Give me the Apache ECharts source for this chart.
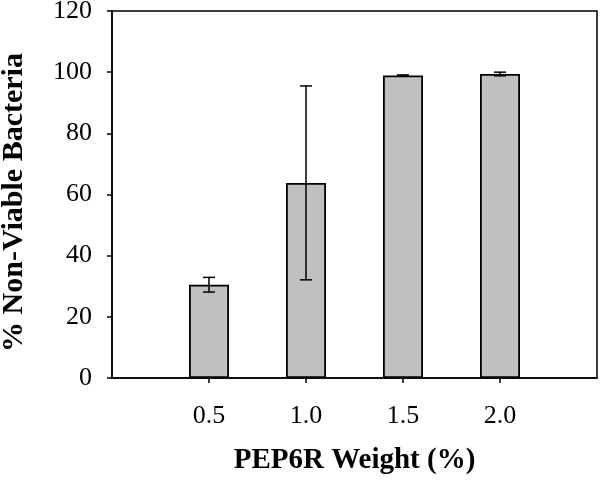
<!DOCTYPE html>
<html><head><meta charset="utf-8">
<script src="https://cdn.jsdelivr.net/npm/echarts@6/dist/echarts.min.js"></script>
<style>html,body{margin:0;padding:0;background:#fff}#c{width:600px;height:487px}</style>
</head><body><div id="c"></div>
<script>
const categories = ['', '0.5', '1.0', '1.5', '2.0', ''];
const values = [null, 30.5, 63.8, 98.9, 99.4, null];
const errors = [null, 2.4, 31.7, 0.2, 0.6, null];
const yTicks = [0, 20, 40, 60, 80, 100, 120];

const font = '"Liberation Serif", "Times New Roman", serif';
const chart = echarts.init(document.getElementById('c'));
chart.setOption({
  animation: false,
  grid: { left: 112, right: 3, top: 11, bottom: 109, show: true, borderColor: '#000', borderWidth: 1.5,
          containLabel: false, outerBoundsMode: 'none' },
  xAxis: {
    type: 'category', data: categories, boundaryGap: false,
    name: 'PEP6R Weight (%)', nameLocation: 'middle', nameGap: 68,
    nameTextStyle: { fontFamily: font, fontWeight: 'bold', fontSize: 29, color: '#000' },
    axisLine: { lineStyle: { color: '#000', width: 1.5 } },
    axisTick: { length: 5, inside: false, lineStyle: { color: '#000', width: 1.5 },
      interval: (i) => categories[i] !== '' },
    axisLabel: { margin: 25, fontFamily: font, fontSize: 26, color: '#000', interval: 0 },
    splitLine: { show: false }
  },
  yAxis: {
    type: 'value', min: yTicks[0], max: yTicks[yTicks.length - 1], interval: 20,
    name: '% Non-Viable Bacteria', nameLocation: 'middle', nameGap: 83, nameRotate: 90,
    nameTextStyle: { fontFamily: font, fontWeight: 'bold', fontSize: 30, color: '#000', padding: [0, 16, 0, 0] },
    axisLine: { show: true, lineStyle: { color: '#000', width: 1.5 } },
    axisTick: { show: true, length: 5, lineStyle: { color: '#000', width: 1.5 } },
    axisLabel: { margin: 20, fontFamily: font, fontSize: 26, color: '#000' },
    splitLine: { show: false }
  },
  series: [
    {
      type: 'bar', data: values, barWidth: 40,
      itemStyle: { color: '#c0c0c0', borderColor: '#000', borderWidth: 1.8 }
    },
    {
      type: 'custom',
      data: values.map((v, i) => v == null ? null : [i, v - errors[i], v + errors[i]]).filter(d => d),
      renderItem: function (params, api) {
        const x = api.value(0);
        const lo = api.coord([x, api.value(1)]);
        const hi = api.coord([x, api.value(2)]);
        const hw = 6;
        const style = { stroke: '#000', lineWidth: 1.5, fill: null };
        return {
          type: 'group', children: [
            { type: 'line', shape: { x1: lo[0], y1: lo[1], x2: hi[0], y2: hi[1] }, style },
            { type: 'line', shape: { x1: lo[0] - hw, y1: lo[1], x2: lo[0] + hw, y2: lo[1] }, style },
            { type: 'line', shape: { x1: hi[0] - hw, y1: hi[1], x2: hi[0] + hw, y2: hi[1] }, style }
          ]
        };
      },
      z: 10
    }
  ]
});
</script></body></html>
